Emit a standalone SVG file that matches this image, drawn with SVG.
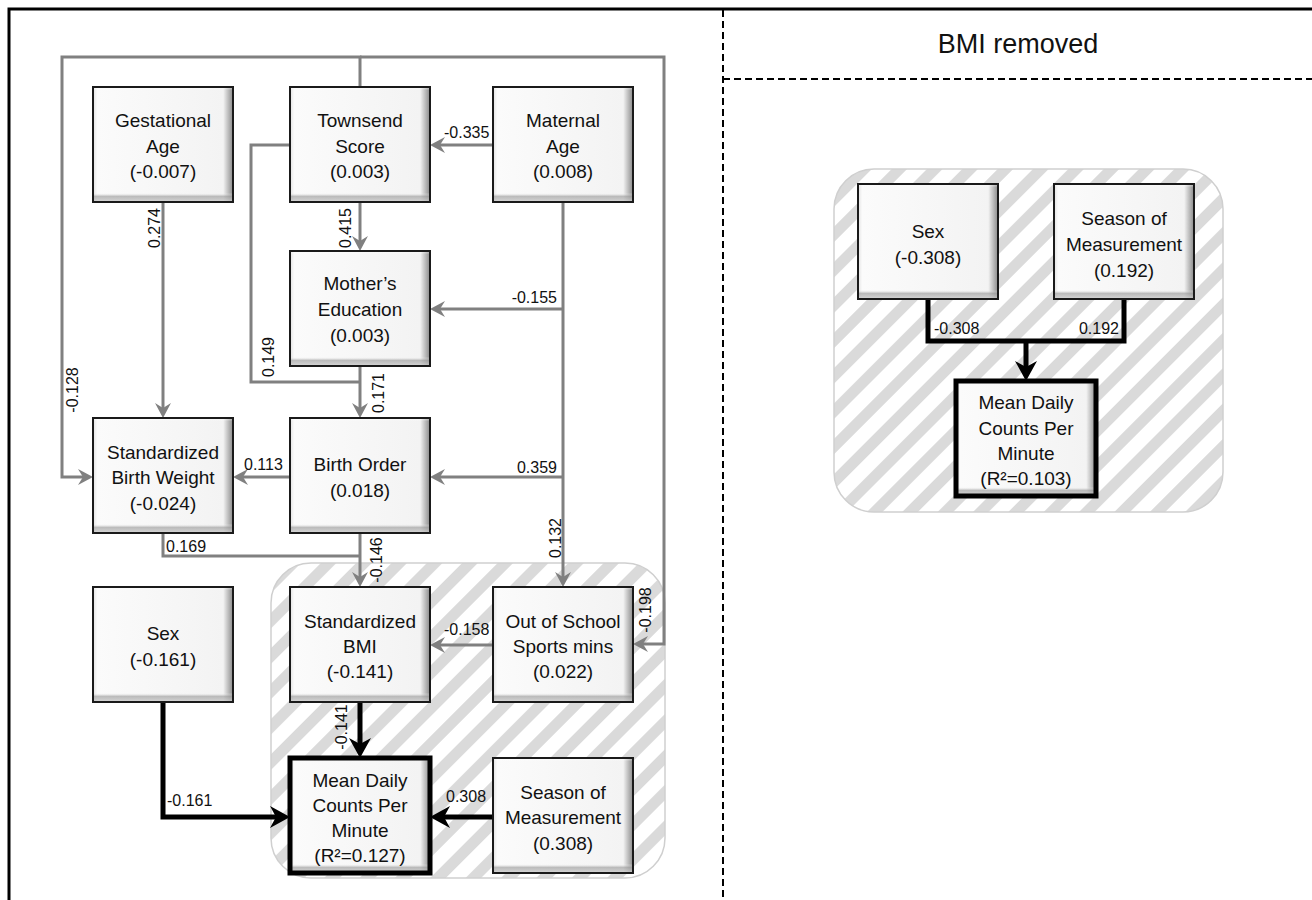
<svg xmlns="http://www.w3.org/2000/svg" xmlns:xlink="http://www.w3.org/1999/xlink" width="1312" height="900" viewBox="0 0 1312 900">
<style>
.t{font-family:"Liberation Sans",Arial,sans-serif;font-size:19px;fill:#111;text-anchor:middle}
.l{font-family:"Liberation Sans",Arial,sans-serif;font-size:16px;fill:#111}
.m{text-anchor:middle}
.e{text-anchor:end}
.g{fill:none;stroke:#808080;stroke-width:3;marker-end:url(#ag)}
.gn{fill:none;stroke:#808080;stroke-width:3}
.k{fill:none;stroke:#000;stroke-width:5;marker-end:url(#ak)}
.kn{fill:none;stroke:#000;stroke-width:5}
.edge{fill:none;stroke:#1a1a1a;stroke-width:2}
.edgeT{fill:none;stroke:#000;stroke-width:5}
.dash{fill:none;stroke:#000;stroke-width:2;stroke-dasharray:7 4}
.cont{fill:url(#hatch);stroke:#cfcfcf;stroke-width:1.5}
</style>
<defs>
<linearGradient id="gh" x1="0" y1="0" x2="1" y2="0">
<stop offset="0" stop-color="#e2e2e2"/>
<stop offset="0.03" stop-color="#fbfbfb"/>
<stop offset="0.93" stop-color="#f3f3f3"/>
<stop offset="1" stop-color="#8a8a8a"/>
</linearGradient>
<linearGradient id="gv" x1="0" y1="0" x2="0" y2="1">
<stop offset="0" stop-color="#ffffff" stop-opacity="0.5"/>
<stop offset="0.03" stop-color="#ffffff" stop-opacity="0"/>
<stop offset="0.92" stop-color="#ffffff" stop-opacity="0"/>
<stop offset="0.95" stop-color="#a0a0a0" stop-opacity="0.7"/>
<stop offset="1" stop-color="#d0d0d0" stop-opacity="0.8"/>
</linearGradient>
<pattern id="hatch" patternUnits="userSpaceOnUse" width="25" height="25" patternTransform="rotate(45)">
<rect width="25" height="25" fill="#ffffff"/>
<rect width="11" height="25" fill="#dadada"/>
</pattern>
<marker id="ag" viewBox="0 0 15 16" markerWidth="15" markerHeight="16" markerUnits="userSpaceOnUse" refX="7" refY="8" orient="auto">
<path d="M0,0 L15,8 L0,16 L5,8 z" fill="#808080"/>
</marker>
<marker id="ak" viewBox="0 0 20 22" markerWidth="20" markerHeight="22" markerUnits="userSpaceOnUse" refX="10" refY="11" orient="auto">
<path d="M0,0 L20,11 L0,22 L6,11 z" fill="#000"/>
</marker>
<g id="box">
<rect width="140" height="115" fill="url(#gh)"/>
<rect width="140" height="115" fill="url(#gv)"/>
<rect width="140" height="115" class="edge"/>
</g>
<g id="boxT">
<rect width="140" height="115" fill="url(#gh)"/>
<rect width="140" height="115" fill="url(#gv)"/>
<rect width="140" height="115" class="edgeT"/>
</g>
</defs>

<rect width="1312" height="900" fill="#ffffff"/>
<g id="frame">
<rect x="9" y="9" width="1400" height="1000" fill="none" stroke="#000" stroke-width="3"/>
<line x1="723" y1="10" x2="723" y2="900" class="dash"/>
<line x1="723" y1="79" x2="1312" y2="79" class="dash"/>
<text x="1018" y="53" style="font-family:'Liberation Sans',Arial,sans-serif;font-size:27px;fill:#111;text-anchor:middle">BMI removed</text>
</g>

<g id="containers">
<rect x="271" y="563" width="394" height="315" rx="40" class="cont"/>
<rect x="834" y="169" width="389" height="343" rx="40" class="cont"/>
</g>

<g id="connectors">
<path class="g" d="M360,87 V57 H62 V477 H85"/>
<path class="g" d="M360,57 H664 V644 H641"/>
<path class="g" d="M493,145 H438"/>
<path class="g" d="M360,202 V243"/>
<path class="g" d="M163,202 V410"/>
<path class="gn" d="M290,145 H251 V382 H360"/>
<path class="g" d="M360,365 V410"/>
<path class="g" d="M563,202 V579"/>
<path class="g" d="M563,309 H438"/>
<path class="g" d="M563,477 H438"/>
<path class="g" d="M290,477 H241"/>
<path class="gn" d="M163,533 V556 H360"/>
<path class="g" d="M360,533 V579"/>
<path class="g" d="M493,645 H438"/>
<path class="k" d="M360,702 V748"/>
<path class="k" d="M163,702 V817 H280"/>
<path class="k" d="M493,817 H440"/>
<path class="kn" d="M928,299 V341 H1124 V299"/>
<path class="k" d="M1026,341 V371"/>

<text class="l m" transform="translate(160,228) rotate(-90)">0.274</text>
<text class="l m" transform="translate(351,228) rotate(-90)">0.415</text>
<text class="l m" transform="translate(78,390) rotate(-90)">-0.128</text>
<text class="l m" transform="translate(274,357) rotate(-90)">0.149</text>
<text class="l m" transform="translate(384,393) rotate(-90)">0.171</text>
<text class="l m" transform="translate(561,538) rotate(-90)">0.132</text>
<text class="l m" transform="translate(382,560) rotate(-90)">-0.146</text>
<text class="l m" transform="translate(651,610) rotate(-90)">-0.198</text>
<text class="l m" transform="translate(347,727) rotate(-90)">-0.141</text>
<text class="l" x="444" y="138">-0.335</text>
<text class="l e" x="557" y="303">-0.155</text>
<text class="l" x="244" y="470">0.113</text>
<text class="l e" x="557" y="473">0.359</text>
<text class="l" x="166" y="552">0.169</text>
<text class="l" x="444" y="635">-0.158</text>
<text class="l" x="167" y="806">-0.161</text>
<text class="l" x="446" y="802">0.308</text>
<text class="l" x="934" y="334">-0.308</text>
<text class="l e" x="1119" y="334">0.192</text>
</g>

<g id="gestational-age">
<use href="#box" x="93" y="87"/>
<text class="t" x="163" y="127">Gestational</text>
<text class="t" x="163" y="153">Age</text>
<text class="t" x="163" y="178">(-0.007)</text>
</g>
<g id="townsend-score">
<use href="#box" x="290" y="87"/>
<text class="t" x="360" y="127">Townsend</text>
<text class="t" x="360" y="153">Score</text>
<text class="t" x="360" y="178">(0.003)</text>
</g>
<g id="maternal-age">
<use href="#box" x="493" y="87"/>
<text class="t" x="563" y="127">Maternal</text>
<text class="t" x="563" y="153">Age</text>
<text class="t" x="563" y="178">(0.008)</text>
</g>
<g id="mothers-education">
<use href="#box" x="290" y="251"/>
<text class="t" x="360" y="290">Mother’s</text>
<text class="t" x="360" y="316">Education</text>
<text class="t" x="360" y="342">(0.003)</text>
</g>
<g id="standardized-birth-weight">
<use href="#box" x="93" y="418"/>
<text class="t" x="163" y="459">Standardized</text>
<text class="t" x="163" y="484">Birth Weight</text>
<text class="t" x="163" y="510">(-0.024)</text>
</g>
<g id="birth-order">
<use href="#box" x="290" y="418"/>
<text class="t" x="360" y="471">Birth Order</text>
<text class="t" x="360" y="497">(0.018)</text>
</g>
<g id="sex">
<use href="#box" x="93" y="587"/>
<text class="t" x="163" y="640">Sex</text>
<text class="t" x="163" y="666">(-0.161)</text>
</g>
<g id="standardized-bmi">
<use href="#box" x="290" y="587"/>
<text class="t" x="360" y="628">Standardized</text>
<text class="t" x="360" y="653">BMI</text>
<text class="t" x="360" y="678">(-0.141)</text>
</g>
<g id="out-of-school-sports">
<use href="#box" x="493" y="587"/>
<text class="t" x="563" y="628">Out of School</text>
<text class="t" x="563" y="653">Sports mins</text>
<text class="t" x="563" y="678">(0.022)</text>
</g>
<g id="mean-daily-counts">
<use href="#boxT" x="290" y="758"/>
<text class="t" x="360" y="787">Mean Daily</text>
<text class="t" x="360" y="812">Counts Per</text>
<text class="t" x="360" y="837">Minute</text>
<text class="t" x="360" y="862">(R²=0.127)</text>
</g>
<g id="season-of-measurement">
<use href="#box" x="493" y="758"/>
<text class="t" x="563" y="799">Season of</text>
<text class="t" x="563" y="824">Measurement</text>
<text class="t" x="563" y="850">(0.308)</text>
</g>

<g id="r-sex">
<use href="#box" x="858" y="184"/>
<text class="t" x="928" y="238">Sex</text>
<text class="t" x="928" y="264">(-0.308)</text>
</g>
<g id="r-season-of-measurement">
<use href="#box" x="1054" y="184"/>
<text class="t" x="1124" y="225">Season of</text>
<text class="t" x="1124" y="251">Measurement</text>
<text class="t" x="1124" y="277">(0.192)</text>
</g>
<g id="r-mean-daily-counts">
<use href="#boxT" x="956" y="381"/>
<text class="t" x="1026" y="409">Mean Daily</text>
<text class="t" x="1026" y="435">Counts Per</text>
<text class="t" x="1026" y="460">Minute</text>
<text class="t" x="1026" y="485">(R²=0.103)</text>
</g>
</svg>
